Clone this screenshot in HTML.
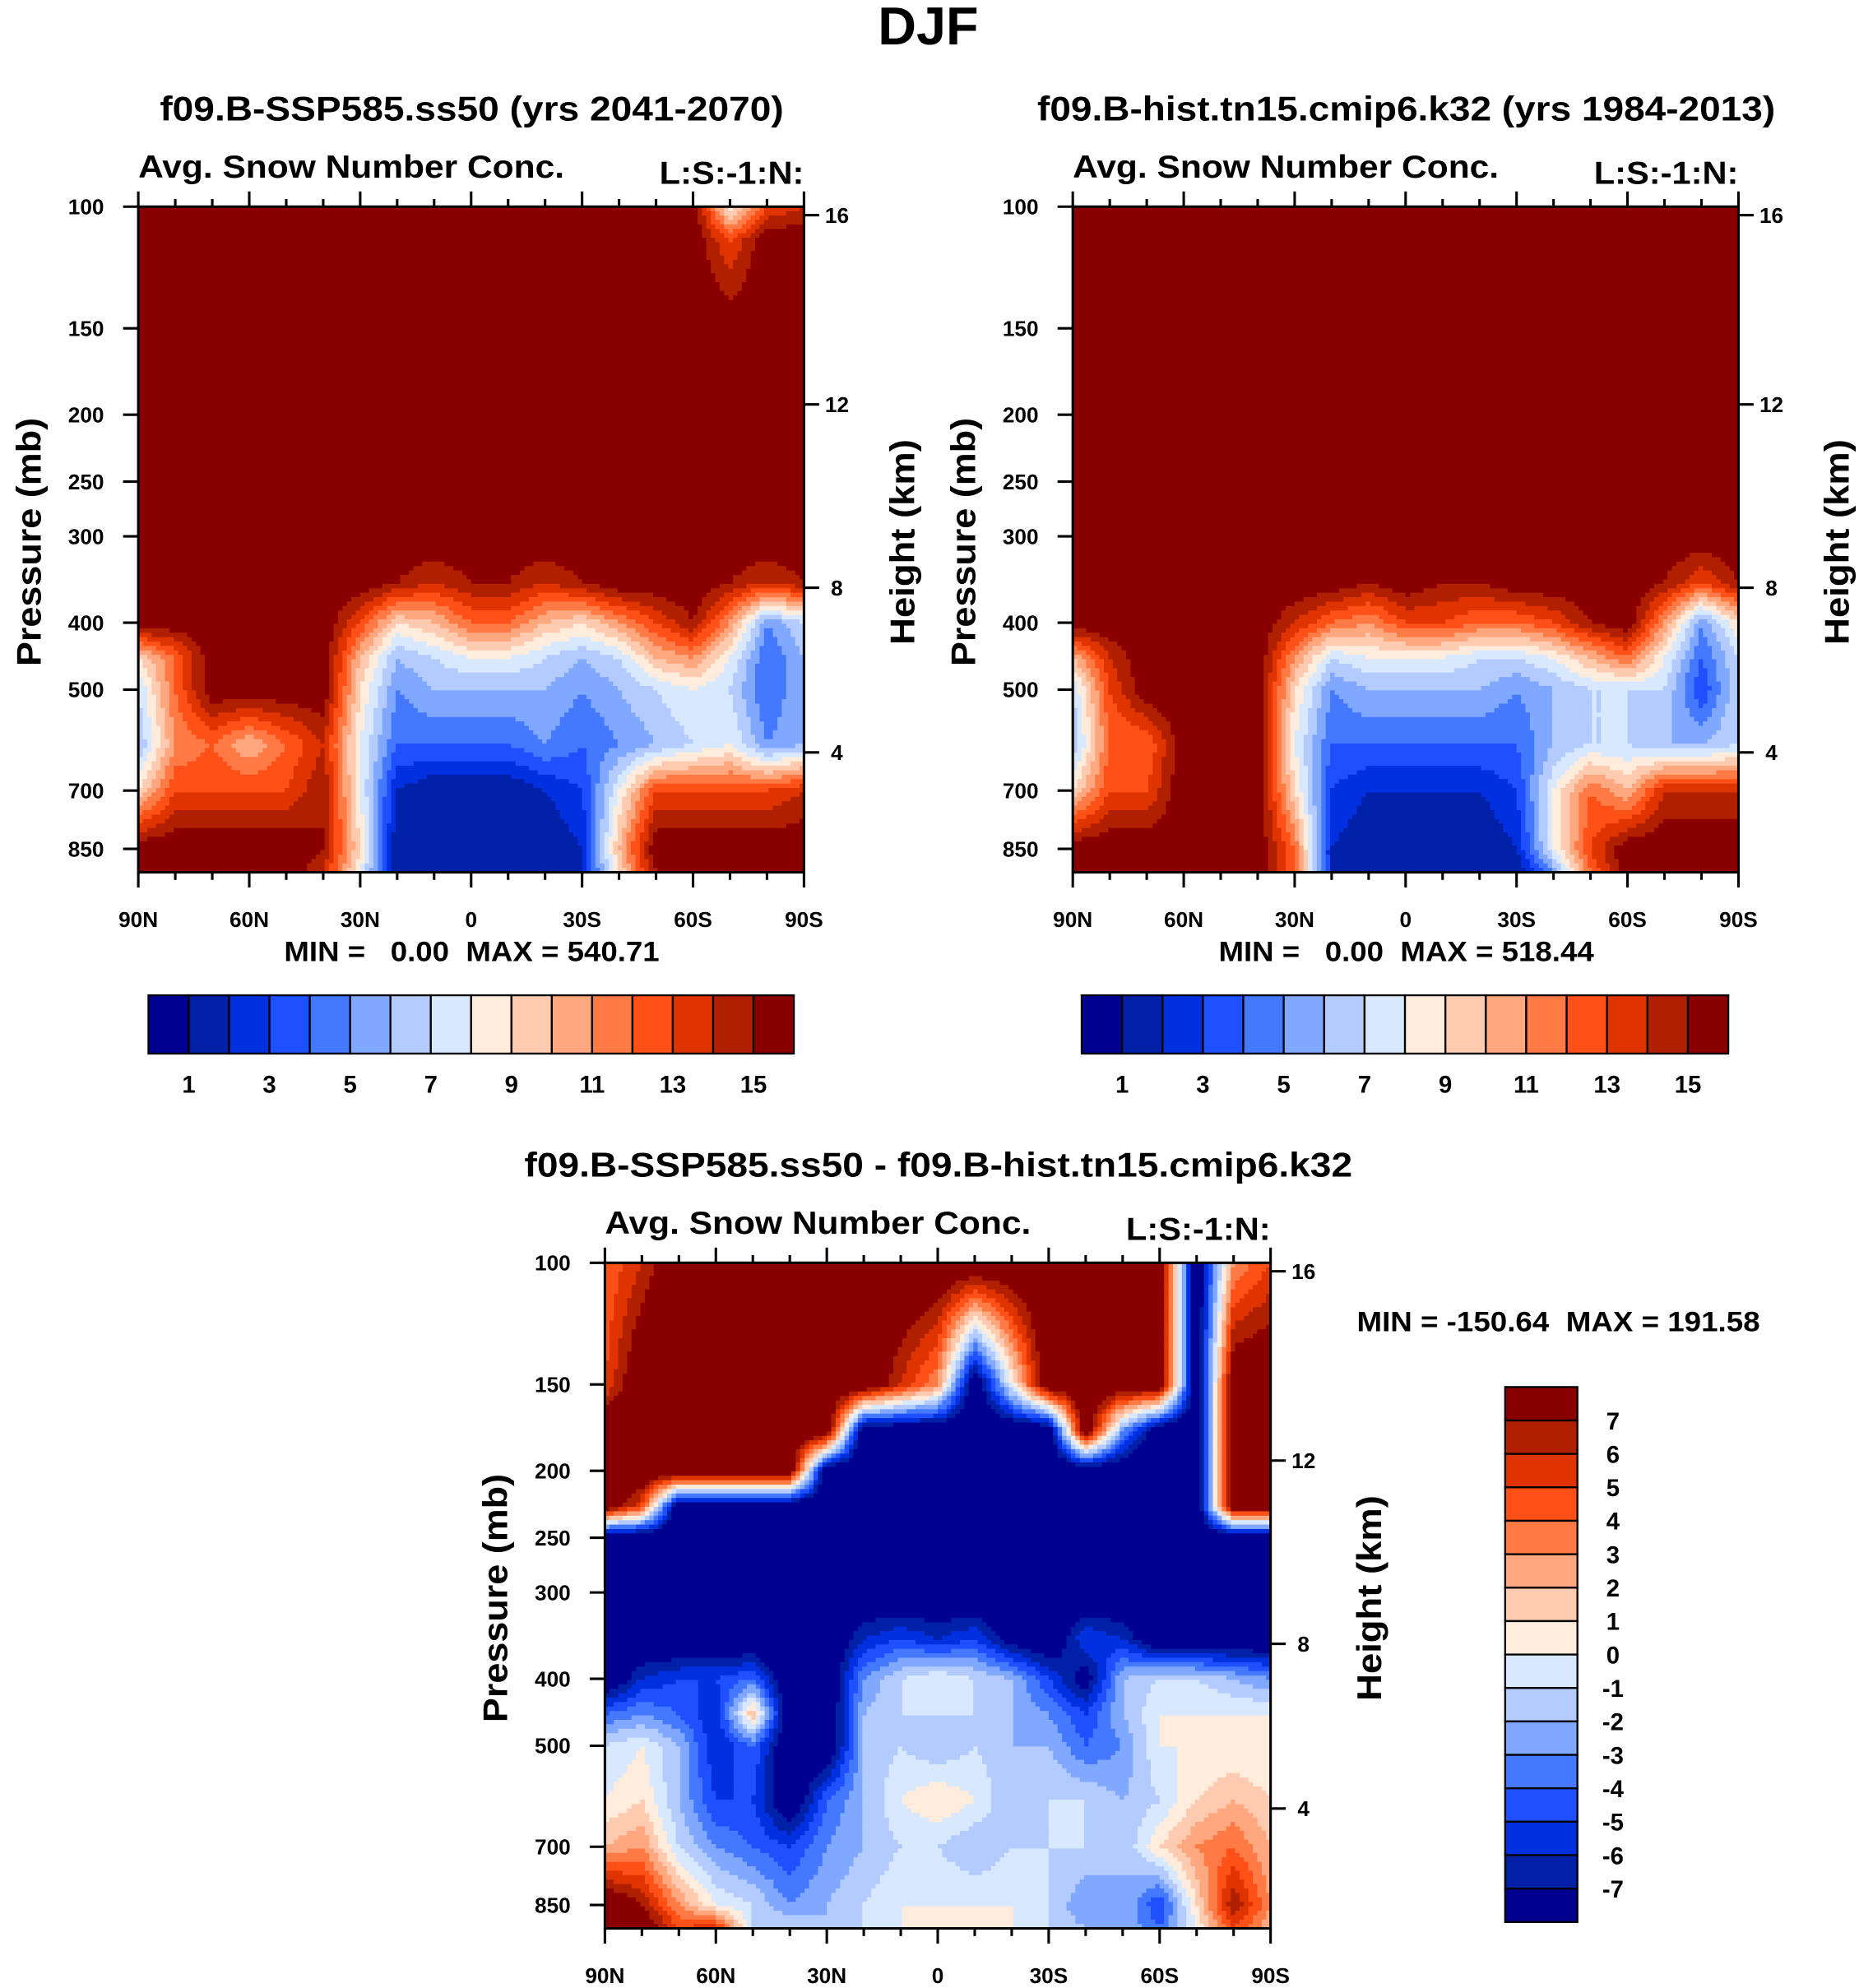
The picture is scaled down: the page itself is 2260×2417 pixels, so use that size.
<!DOCTYPE html>
<html><head><meta charset="utf-8"><style>
html,body{margin:0;padding:0;background:#fff;}
svg{display:block;}
text{font-family:"Liberation Sans",sans-serif;font-weight:bold;fill:#000;}
</style></head><body>
<svg id="fig" xmlns="http://www.w3.org/2000/svg" width="2260" height="2417" viewBox="0 0 1466 1568">
<text x="732" y="35" font-size="42" text-anchor="middle">DJF</text>
</svg>
<script>
// ---- data ----
const lats = [90,80,70,60,50,40,30,20,10,0,-10,-20,-30,-40,-50,-60,-70,-80,-90];
const levelsA = [100,112,150,200,250,300,350,400,450,500,600,700,850,920];
const fieldSSP = [
[16,16,16,16,16,16,16,16,16,16,16,16,16,16,16,16,8,13,14],
[16,16,16,16,16,16,16,16,16,16,16,16,16,16,16,16,13,16,16],
[16,16,16,16,16,16,16,16,16,16,16,16,16,16,16,16,16,16,16],
[16,16,16,16,16,16,16,16,16,16,16,16,16,16,16,16,16,16,16],
[16,16,16,16,16,16,16,16,16,16,16,16,16,16,16,16,16,16,16],
[16,16,16,16,16,16,16,16,16,16,16,16,16,16,16,16,16,16,16],
[16,16,16,16,16,16,16,15,14,15,15,14,15,16,16,16,15,14,15],
[16,16,16,16,16,16,13,9,10,12,12,10,9,11,13,15,11,5,7],
[9,12,16,16,16,16,10,6,7,8,8,7,6,7,10,11,8,4,6],
[7,12,16,16,16,16,9,5,6,6,6,6,5,6,7,8,7,4,6],
[6,11,12,10,12,14,8,4,4,4,4,5,4,5,6,7,8,5,6],
[9,13,13,13,13,15,8,2,1,1,1,2,3,8,13,13,13,13,14],
[16,16,16,16,16,15,9,1,1,1,1,1,2,10,16,16,16,16,16],
[16,16,16,16,16,14,8,1,1,1,1,1,2,9,15,16,16,16,16]];
const fieldHist = [
[16,16,16,15,16,16,16,16,16,16,16,16,16,16,16,16,15,15,15],
[16,16,16,16,16,16,16,16,16,16,16,16,16,16,16,16,16,16,16],
[16,16,16,16,16,16,16,16,16,16,16,16,16,16,16,16,16,16,16],
[16,16,16,16,16,16,16,16,16,16,16,16,16,16,16,16,16,16,16],
[16,16,16,16,16,16,16,16,16,16,16,16,16,16,16,16,16,16,16],
[16,16,16,16,16,16,16,16,16,16,16,16,16,16,16,16,16,16,16],
[16,16,16,16,16,16,16,16,15,16,15,15,16,16,16,16,15,13,15],
[16,16,16,16,16,16,14,12,11,13,13,12,12,13,15,16,11,5,9],
[10,14,16,16,16,16,11,7,8,8,8,7,7,8,10,12,8,4,7],
[7,13,16,16,16,16,9,5,6,6,6,6,5,6,7,7,7,3,7],
[6,12,12,16,16,16,8,4,4,4,4,4,4,6,7,7,6,6,7],
[9,13,13,16,16,16,9,3,2,2,2,2,3,8,12,10,14,14,14],
[16,16,16,16,16,16,12,2,1,1,1,1,2,8,13,16,16,16,16],
[16,16,16,16,16,16,12,2,1,1,1,1,1,5,12,16,16,16,16]];
const levelsD = [100,150,175,200,225,250,300,350,400,450,500,600,700,850,920];
const fieldDiff = [
[4,6,9,9,9,9,9,9,9,9,9,9,9,9,9,9,-9,3,5],
[5,9,9,9,9,9,9,9,6,3,-9,0,9,9,9,9,-9,9,9],
[9,9,9,9,9,9,9,-9,-9,-9,-9,-9,-9,9,-3,-9,-9,9,9],
[9,9,9,9,9,9,-9,-9,-9,-9,-9,-9,-9,-9,-9,-9,-9,9,9],
[9,5,-9,-9,-9,-9,-9,-9,-9,-9,-9,-9,-9,-9,-9,-9,-9,9,9],
[-9,-9,-9,-9,-9,-9,-9,-9,-9,-9,-9,-9,-9,-9,-9,-9,-9,-9,-9],
[-9,-9,-9,-9,-9,-9,-9,-9,-9,-9,-9,-9,-9,-9,-9,-9,-9,-9,-9],
[-9,-9,-9,-9,-9,-9,-9,-6,-5,-6,-5,-8,-9,-5,-6,-9,-9,-9,-9],
[-9,-6,-5,-5,-4,-9,-9,-3,-1,0,-1,-2,-5,-8,-2,-1,-1,-2,-3],
[-4,-3,-4,-6,2,-9,-9,-2,-1,-1,-1,-2,-3,-5,-2,0,0,0,0],
[-1,0,-2,-6,-4,-9,-9,-2,-1,-2,-1,-2,-2,-4,-3,0,0,0,0],
[0,1,-2,-5,-5,-9,-4,-2,0,1,0,-2,-1,-1,-2,-1,1,2,1],
[2,3,-1,-3,-4,-5,-3,-2,-1,-1,-2,-1,-1,-1,-2,1,3,4,2],
[9,7,3,0,-1,-3,-2,-1,0,0,0,0,-1,-3,-2,-5,1,7,3],
[9,9,5,6,-1,-1,-2,-1,0,0,0,0,-1,-2,-2,-4,0,5,2]];
const pTicks = [100,150,200,250,300,400,500,700,850];
const zTicks = [16,12,8,4];
const latTicks = [90,60,30,0,-30,-60,-90];
const latLabels = ["90N","60N","30N","0","30S","60S","90S"];
const cbLabelsA = ["1","3","5","7","9","11","13","15"];
const cbLabelsD = ["7","6","5","4","3","2","1","0","-1","-2","-3","-4","-5","-6","-7"];
const palette = ["#000090","#0020a8","#0030e0","#1e50ff","#4478ff","#80a8ff","#b3cbff","#d8e9ff","#ffecdc","#ffcbb0","#ffa880","#ff7a45","#ff5018","#e03400","#b02000","#8a0000"];

const NS="http://www.w3.org/2000/svg";
const svg=document.getElementById('fig');
function mk(tag,attrs,parent){const e=document.createElementNS(NS,tag);for(const k in attrs)e.setAttribute(k,attrs[k]);(parent||svg).appendChild(e);return e;}
function txt(s,attrs,parent){const e=mk('text',attrs,parent);e.textContent=s;return e;}
const W=525,H=525,DEC=545;
function stdP(zkm){const z=zkm*1000;if(z<=11000)return 1013.25*Math.pow(1-2.25577e-5*z,5.25588);return 226.32*Math.exp(-(z-11000)/6341.6);}

function panel(name,X0,Y0,levels,field,idxFn,tb){
  const g=mk('g',{});
  
  
  const xOf=lat=>X0+(90-lat)/180*W;
  const yOf=p=>Y0+Math.log10(p/100)*DEC;
  const lp=levels.map(p=>Math.log10(p));
  const fg=mk('g',{},g);
  
  
  const step=3.5;const ny=Math.ceil(H/step),nx=Math.ceil(W/(step));
  for(let j=0;j<ny;j++){
    const y=Y0+j*step+step/2;const l=2+(y-Y0)/DEC;
    let r=0;while(r<lp.length-2&&l>lp[r+1])r++;
    let ty=(l-lp[r])/(lp[r+1]-lp[r]);ty=Math.max(0,Math.min(1,ty));
    let runStart=0,runIdx=-1;
    for(let i=0;i<=nx;i++){
      let idx=-2;
      if(i<nx){
        const x=X0+i*(W/nx)+W/nx/2;const lat=90-(x-X0)/W*180;
        let c=Math.min(17,Math.max(0,Math.floor((90-lat)/10)));let tx=((90-lat)-c*10)/10;
        const v=(field[r][c]*(1-tx)+field[r][c+1]*tx)*(1-ty)+(field[r+1][c]*(1-tx)+field[r+1][c+1]*tx)*ty;
        idx=idxFn(v);
      }
      if(idx!==runIdx){
        if(runIdx>=0){const x0=X0+runStart*(W/nx);const x1=X0+i*(W/nx);
          const rc=mk('rect',{x:x0,y:Y0+j*step,width:x1-x0+0.4,height:Math.min(step+0.4,Y0+H-(Y0+j*step)),fill:palette[runIdx]},fg);
          
          }
        runIdx=idx;runStart=i;
      }
    }
  }
  const fr=mk('rect',{x:X0,y:Y0,width:W,height:H,fill:'none',stroke:'#000','stroke-width':2},g);
  
  
  pTicks.forEach(p=>{const y=yOf(p);
    mk('line',{x1:X0-12,x2:X0,y1:y,y2:y,stroke:'#000','stroke-width':2},g);
    const t=txt(String(p),{x:X0-27,y:y+6,'font-size':17,'text-anchor':'end'},g);
    
    });
  zTicks.forEach(z=>{const y=yOf(stdP(z));
    mk('line',{x1:X0+W,x2:X0+W+12,y1:y,y2:y,stroke:'#000','stroke-width':2},g);
    const t=txt(String(z),{x:X0+W+26,y:y+6,'font-size':17,'text-anchor':'middle'},g);
    
    });
  for(let lat=90;lat>=-90;lat-=10){const x=xOf(lat);const major=lat%30===0;const L=major?12:6;
    mk('line',{x1:x,x2:x,y1:Y0-L,y2:Y0,stroke:'#000','stroke-width':2},g);
    mk('line',{x1:x,x2:x,y1:Y0+H,y2:Y0+H+L,stroke:'#000','stroke-width':2},g);}
  latTicks.forEach((lat,i)=>{const t=txt(latLabels[i],{x:xOf(lat),y:Y0+H+43,'font-size':17,'text-anchor':'middle'},g);
    
    });
  const yc=Y0+H/2+2;
  const pt=txt('Pressure (mb)',{x:0,y:0,'font-size':27,'text-anchor':'middle',transform:`translate(${X0-77},${yc}) rotate(-90)`,textLength:196,lengthAdjust:'spacingAndGlyphs'},g);
  
  
  const ht=txt('Height (km)',{x:0,y:0,'font-size':27,'text-anchor':'middle',transform:`translate(${X0+W+87},${yc}) rotate(-90)`,textLength:162,lengthAdjust:'spacingAndGlyphs'},g);
  
  
  const a=txt('Avg. Snow Number Conc.',{x:X0,y:Y0-23,'font-size':25,textLength:336,lengthAdjust:'spacingAndGlyphs'},g);
  
  
  const ls=txt('L:S:-1:N:',{x:X0+W,y:Y0-18,'font-size':25,'text-anchor':'end',textLength:114,lengthAdjust:'spacingAndGlyphs'},g);
  
  
  const ti=txt(tb.title,{x:tb.tx,y:tb.ty,'font-size':27,'text-anchor':'middle',textLength:tb.tw,lengthAdjust:'spacingAndGlyphs'},g);
  
  
  const mm=txt(tb.mm,{x:tb.mx,y:tb.my,'font-size':22,'text-anchor':tb.ma,textLength:tb.mw,lengthAdjust:'spacingAndGlyphs',style:'white-space:pre'},g);
  
  
}
const idxA=v=>Math.max(0,Math.min(15,Math.floor(v)));
const idxD=v=>Math.max(0,Math.min(15,Math.floor(v)+8));

function hbar(name,x0,x1,y0,y1){
  const g=mk('g',{});
  
  
  const bw=(x1-x0)/16;
  palette.forEach((c,i)=>{const r=mk('rect',{x:x0+i*bw,y:y0,width:bw,height:y1-y0,fill:c,stroke:'#000','stroke-width':1.5},g);
    
    });
  cbLabelsA.forEach((s,k)=>{const t=txt(s,{x:x0+(2*k+1)*bw,y:y1+31,'font-size':19,'text-anchor':'middle'},g);
    
    });
}
function vbar(name,x0,x1,y0,y1){
  const g=mk('g',{});
  
  
  const bh=(y1-y0)/16;
  palette.slice().reverse().forEach((c,i)=>{const r=mk('rect',{x:x0,y:y0+i*bh,width:x1-x0,height:bh,fill:c,stroke:'#000','stroke-width':1.5},g);
    
    });
  cbLabelsD.forEach((s,k)=>{const t=txt(s,{x:x1+28,y:y0+(k+1)*bh+7,'font-size':19,'text-anchor':'middle'},g);
    
    });
}

panel('panel-ssp585',109,163,levelsA,fieldSSP,idxA,{title:'f09.B-SSP585.ss50 (yrs 2041-2070)',tx:372,ty:95,tw:492,mm:'MIN =   0.00  MAX = 540.71',mx:372,my:758,ma:'middle',mw:296});
panel('panel-hist',846,163,levelsA,fieldHist,idxA,{title:'f09.B-hist.tn15.cmip6.k32 (yrs 1984-2013)',tx:1109,ty:95,tw:582,mm:'MIN =   0.00  MAX = 518.44',mx:1109,my:758,ma:'middle',mw:296});
panel('panel-difference',477,996,levelsD,fieldDiff,idxD,{title:'f09.B-SSP585.ss50 - f09.B-hist.tn15.cmip6.k32',tx:740,ty:928,tw:653,mm:'MIN = -150.64  MAX = 191.58',mx:1070,my:1050,ma:'start',mw:318});
hbar('colorbar-ssp585',117,626,785,831);
hbar('colorbar-hist',853,1363,785,831);
vbar('colorbar-difference',1187,1244,1094,1516);
</script>
</body></html>
